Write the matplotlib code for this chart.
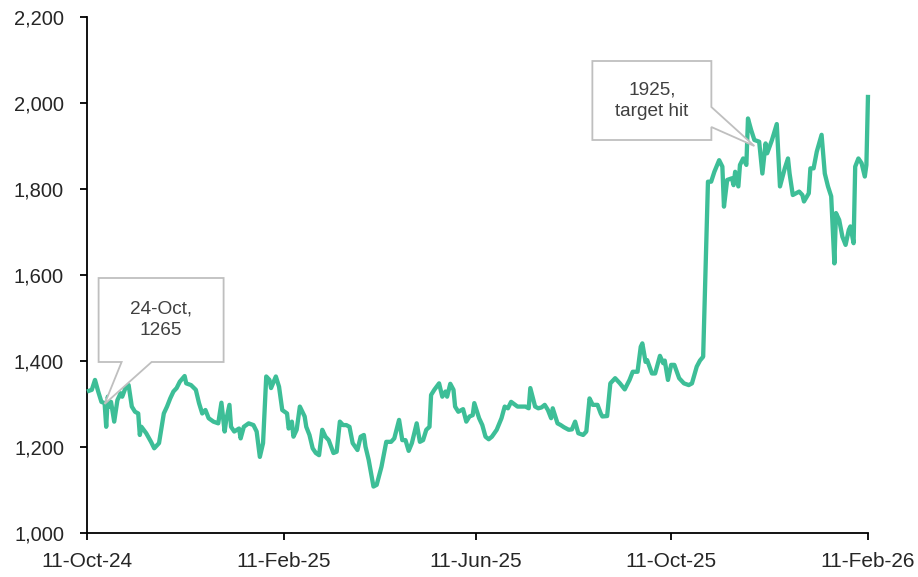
import matplotlib
matplotlib.use("Agg")
import matplotlib.pyplot as plt
import matplotlib.dates as mdates
from matplotlib.patches import Polygon
from matplotlib.transforms import IdentityTransform
from matplotlib.ticker import FuncFormatter
import pandas as pd

# ---------------- data ----------------
start_date = "2024-10-11"
day_offsets = [0, 3, 5, 7, 9, 11, 12, 13, 14, 15, 17, 19, 21, 22, 24, 26, 28, 30, 32, 33,
               34, 37, 40, 42, 45, 48, 50, 52, 54, 56, 58, 61, 62, 65, 68, 70, 72, 74, 76, 79,
               82, 84, 86, 87, 89, 90, 92, 95, 96, 98, 101, 104, 106, 108, 110, 112, 114, 115, 118, 120,
               122, 125, 126, 128, 129, 131, 133, 136, 137, 139, 141, 143, 145, 147, 149, 151, 154, 156, 158, 160,
               162, 164, 166, 169, 171, 173, 174, 176, 179, 181, 184, 187, 190, 192, 195, 197, 199, 201, 203, 206,
               208, 210, 212, 214, 215, 217, 220, 222, 224, 225, 227, 229, 230, 232, 235, 237, 239, 241, 242, 245,
               247, 249, 251, 253, 256, 259, 261, 263, 265, 269, 271, 274, 276, 277, 280, 282, 284, 286, 288, 290,
               291, 294, 296, 298, 301, 303, 305, 307, 310, 312, 314, 316, 319, 321, 322, 325, 327, 330, 333, 336,
               339, 341, 344, 346, 347, 349, 350, 353, 355, 358, 360, 361, 363, 365, 367, 370, 373, 376, 378, 381,
               383, 385, 388, 390, 392, 395, 397, 398, 400, 403, 404, 405, 407, 408, 410, 412, 413, 415, 417, 420,
               422, 424, 425, 428, 431, 433, 436, 438, 439, 441, 445, 447, 448, 451, 452, 454, 456, 459, 461, 463,
               465, 467, 468, 470, 472, 474, 476, 477, 479, 480, 482, 484, 486, 487, 488]
values = [1329, 1333, 1356, 1329, 1305, 1302, 1247, 1317, 1294, 1305, 1259, 1309, 1325, 1317, 1337, 1344, 1294, 1282, 1278, 1228,
          1247, 1232, 1212, 1197, 1209, 1278, 1294, 1313, 1329, 1337, 1352, 1365, 1348, 1344, 1333, 1302, 1278, 1286, 1267, 1259,
          1255, 1303, 1236, 1263, 1298, 1247, 1236, 1243, 1220, 1247, 1255, 1251, 1236, 1177, 1209, 1364, 1356, 1337, 1364, 1340,
          1286, 1278, 1243, 1259, 1224, 1240, 1294, 1271, 1247, 1228, 1197, 1186, 1181, 1240, 1224, 1216, 1186, 1189, 1259, 1251,
          1251, 1247, 1209, 1193, 1224, 1228, 1201, 1170, 1108, 1112, 1154, 1212, 1212, 1220, 1263, 1216, 1216, 1191, 1209, 1255,
          1212, 1216, 1240, 1247, 1321, 1333, 1348, 1317, 1329, 1317, 1347, 1333, 1294, 1282, 1288, 1259, 1271, 1274, 1302, 1267,
          1251, 1224, 1218, 1224, 1240, 1267, 1294, 1290, 1305, 1294, 1294, 1294, 1290, 1337, 1294, 1290, 1292, 1298, 1286, 1267,
          1290, 1255, 1251, 1246, 1240, 1241, 1259, 1232, 1228, 1236, 1313, 1298, 1298, 1278, 1271, 1272, 1348, 1360, 1348, 1334,
          1356, 1375, 1375, 1433, 1441, 1398, 1402, 1371, 1371, 1412, 1395, 1401, 1356, 1391, 1391, 1360, 1348, 1344, 1348, 1387,
          1401, 1410, 1817, 1817, 1840, 1867, 1852, 1759, 1821, 1825, 1809, 1840, 1806, 1856, 1871, 1856, 1964, 1937, 1914, 1910,
          1836, 1906, 1883, 1914, 1951, 1806, 1848, 1871, 1836, 1786, 1794, 1786, 1771, 1790, 1848, 1848, 1887, 1926, 1836, 1806,
          1783, 1627, 1744, 1728, 1689, 1670, 1705, 1713, 1674, 1852, 1871, 1860, 1829, 1856, 2019]

x_tick_dates = ["2024-10-11", "2025-02-11", "2025-06-11", "2025-10-11", "2026-02-11"]
y_ticks = [1000, 1200, 1400, 1600, 1800, 2000, 2200]

callout_texts = ["24-Oct,\n1265", "1925,\ntarget hit"]
callout_tips = [("2024-10-22", 1300), ("2025-12-02", 1900)]

# ---------------- styling / layout ----------------
LINE_COLOR = "#3dbe97"
TEXT_COLOR = "#262626"
W, H = 918, 577

plt.rcParams["font.family"] = ["Liberation Sans", "DejaVu Sans"]

dates = pd.to_datetime(start_date) + pd.to_timedelta(day_offsets, unit="D")

fig = plt.figure(figsize=(W / 100, H / 100), dpi=100)
ax = fig.add_axes([87 / W, 44 / H, 781 / W, 516 / H])

ax.plot(dates, values, color=LINE_COLOR, lw=3.1, solid_joinstyle="round",
        solid_capstyle="butt", clip_on=False, zorder=3)

ax.set_xlim(pd.to_datetime(x_tick_dates[0]), pd.to_datetime(x_tick_dates[-1]))
ax.set_ylim(y_ticks[0], y_ticks[-1])
ax.set_xticks(pd.to_datetime(x_tick_dates))
ax.xaxis.set_major_formatter(mdates.DateFormatter("%d-%b-%y"))
ax.set_yticks(y_ticks)
ax.yaxis.set_major_formatter(FuncFormatter(lambda v, p: f"{int(v):,}"))

for s in ["top", "right"]:
    ax.spines[s].set_visible(False)
for s in ["left", "bottom"]:
    ax.spines[s].set_color("#000000")
    ax.spines[s].set_linewidth(1.3)

ax.tick_params(axis="y", direction="out", length=5, width=1.3, pad=11.5,
               labelsize=14.5, labelcolor=TEXT_COLOR, color="#000000")
ax.tick_params(axis="x", direction="out", length=5, width=1.3, pad=9,
               labelsize=15, labelcolor=TEXT_COLOR, color="#000000")

# ---------------- callouts ----------------
fig.canvas.draw()
shapes = [
    [(-6, -126), (119, -126), (119, -42), (47, -42), (0, 0), (17, -42), (-6, -42)],
    [(-162, -85), (-43, -85), (-43, -39), (0, 0), (-43, -19), (-43, -6), (-162, -6)],
]
text_centers = [(56.5, -84), (-102.5, -45.5)]

for txt, tip, shape, tc in zip(callout_texts, callout_tips, shapes, text_centers):
    tx, ty = ax.transData.transform((mdates.date2num(pd.to_datetime(tip[0])), tip[1]))
    pts = [(tx + dx, ty - dy) for dx, dy in shape]
    poly = Polygon(pts, closed=True, transform=IdentityTransform(),
                   facecolor="white", edgecolor="#bfbfbf", lw=1.3, zorder=10)
    fig.add_artist(poly)
    fig.text(tx + tc[0], ty - tc[1], txt, transform=IdentityTransform(),
             ha="center", va="center", fontsize=13.7, color="#404040",
             linespacing=1.35, zorder=11)

fig.savefig("out.png", dpi=100)
